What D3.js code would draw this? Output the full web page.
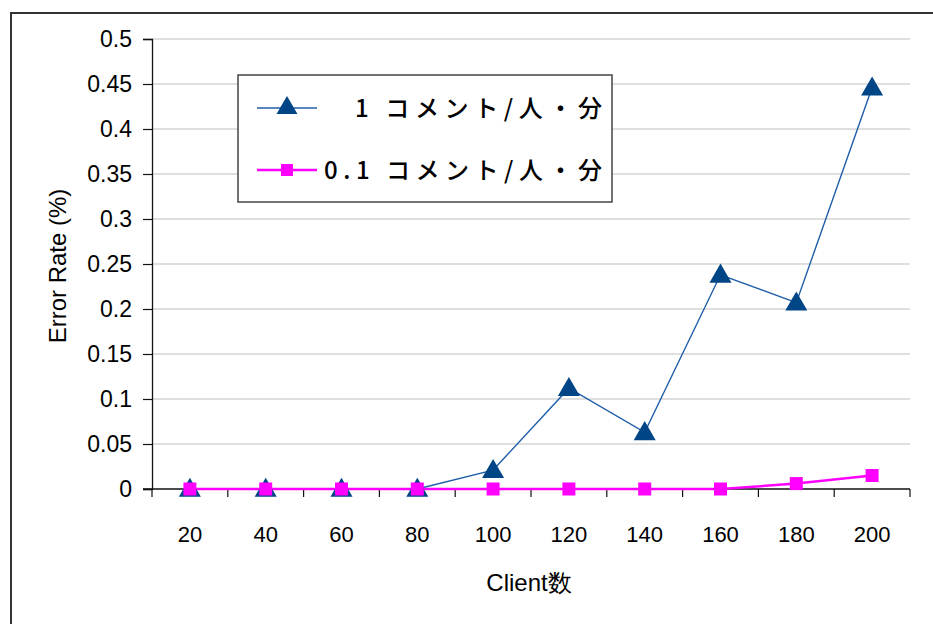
<!DOCTYPE html>
<html>
<head>
<meta charset="utf-8">
<script src="https://cdn.jsdelivr.net/npm/d3@7"></script>
<style>
  html, body { margin: 0; padding: 0; background: #fff; }
  svg { display: block; }
</style>
</head>
<body>
<svg id="chart" width="933" height="624"></svg>
<script>
// Client counts on the category axis
const clients = ["20", "40", "60", "80", "100", "120", "140", "160", "180", "200"];
// Error rate (%) at 1 comment / person / minute
const rateHigh = [0, 0, 0, 0, 0.021, 0.112, 0.063, 0.238, 0.207, 0.446];
// Error rate (%) at 0.1 comment / person / minute
const rateLow = [0, 0, 0, 0, 0, 0, 0, 0, 0.006, 0.015];
// Y-axis ticks
const yTicks = [0, 0.05, 0.1, 0.15, 0.2, 0.25, 0.3, 0.35, 0.4, 0.45, 0.5];
const seriesNames = ["1 コメント/人・分", "0.1 コメント/人・分"];

const svg = d3.select("#chart");
const latin = "'Liberation Sans', Arial, sans-serif";
const cjk = "'Noto Sans CJK JP', 'Noto Sans CJK SC', sans-serif";

const plot = { left: 152, right: 910, top: 39, bottom: 489 };

const x = d3.scaleBand().domain(clients).range([plot.left, plot.right]);
const y = d3.scaleLinear().domain([0, 0.5]).range([plot.bottom, plot.top]);

// Outer frame (runs past the window on the right and bottom)
svg.append("rect")
  .attr("x", 11).attr("y", 13).attr("width", 1000).attr("height", 1000)
  .attr("fill", "none").attr("stroke", "#333").attr("stroke-width", 2);

// Horizontal gridlines
svg.append("g")
  .selectAll("line")
  .data(yTicks.filter(d => d > 0))
  .join("line")
  .attr("x1", plot.left).attr("x2", plot.right)
  .attr("y1", d => y(d)).attr("y2", d => y(d))
  .attr("stroke", "#c0c0c0").attr("stroke-width", 1.2);

// Y axis
const yAxis = svg.append("g")
  .attr("transform", `translate(${plot.left},0)`)
  .call(d3.axisLeft(y).tickValues(yTicks).tickSize(9).tickPadding(11)
    .tickFormat(d => String(+d.toFixed(2))));
yAxis.select(".domain").attr("stroke", "#111").attr("stroke-width", 1.3);
yAxis.selectAll(".tick line").attr("stroke", "#111").attr("stroke-width", 1.2);
yAxis.selectAll(".tick text")
  .attr("font-family", latin).attr("font-size", 23).attr("fill", "#000");

// X axis: tick marks sit on the band boundaries
const xAxis = svg.append("g")
  .attr("transform", `translate(0,${plot.bottom})`);
xAxis.append("line")
  .attr("x1", plot.left - 9).attr("x2", plot.right)
  .attr("stroke", "#111").attr("stroke-width", 1.3);
const bounds = clients.map(c => x(c)).concat([x(clients[clients.length - 1]) + x.bandwidth()]);
xAxis.selectAll("line.tk")
  .data(bounds)
  .join("line").attr("class", "tk")
  .attr("x1", d => d).attr("x2", d => d)
  .attr("y1", 0).attr("y2", 8)
  .attr("stroke", "#111").attr("stroke-width", 1.2);
xAxis.selectAll("text")
  .data(clients)
  .join("text")
  .attr("x", d => x(d) + x.bandwidth() / 2)
  .attr("y", 53)
  .attr("text-anchor", "middle")
  .attr("font-family", latin).attr("font-size", 22)
  .text(d => d);

// Axis titles
svg.append("text")
  .attr("x", 529).attr("y", 591)
  .attr("text-anchor", "middle")
  .attr("font-family", latin).attr("font-size", 24)
  .text("Client数");

svg.append("text")
  .attr("transform", "translate(66,266) rotate(-90)")
  .attr("text-anchor", "middle")
  .attr("font-family", latin).attr("font-size", 24)
  .text("Error Rate (%)");

const cx = d => x(d) + x.bandwidth() / 2;
const tri = d3.symbol().type(d3.symbolTriangle).size(210);

// Series: 1 comment / person / minute
svg.append("path")
  .datum(rateHigh)
  .attr("fill", "none").attr("stroke", "#1f5ea8").attr("stroke-width", 1.4)
  .attr("d", d3.line().x((d, i) => cx(clients[i])).y(d => y(d)));

// Series: 0.1 comment / person / minute
svg.append("path")
  .datum(rateLow)
  .attr("fill", "none").attr("stroke", "#ff00ff").attr("stroke-width", 2.5)
  .attr("d", d3.line().x((d, i) => cx(clients[i])).y(d => y(d)));

svg.append("g")
  .selectAll("path")
  .data(rateHigh)
  .join("path")
  .attr("transform", (d, i) => `translate(${cx(clients[i])},${y(d) + 1.5})`)
  .attr("d", tri)
  .attr("fill", "#004586");

svg.append("g")
  .selectAll("rect")
  .data(rateLow)
  .join("rect")
  .attr("x", (d, i) => cx(clients[i]) - 6.5)
  .attr("y", d => y(d) - 6.5)
  .attr("width", 13).attr("height", 13)
  .attr("fill", "#ff00ff");

// Legend
const lg = svg.append("g");
lg.append("rect")
  .attr("x", 238).attr("y", 75).attr("width", 374).attr("height", 127)
  .attr("fill", "#fff").attr("stroke", "#444").attr("stroke-width", 1.5);

const legendRows = [
  { name: seriesNames[0], y: 108, color: "#1f5ea8", width: 1.4, marker: "tri", textX: 355, len: 247 },
  { name: seriesNames[1], y: 170, color: "#ff00ff", width: 2.5, marker: "sq", textX: 324, len: 278 }
];
legendRows.forEach(r => {
  lg.append("line")
    .attr("x1", 257).attr("x2", 317).attr("y1", r.y).attr("y2", r.y)
    .attr("stroke", r.color).attr("stroke-width", r.width);
  if (r.marker === "tri") {
    lg.append("path")
      .attr("transform", `translate(287,${r.y})`)
      .attr("d", d3.symbol().type(d3.symbolTriangle).size(190))
      .attr("fill", "#004586");
  } else {
    lg.append("rect")
      .attr("x", 281).attr("y", r.y - 6).attr("width", 12).attr("height", 12)
      .attr("fill", "#ff00ff");
  }
  lg.append("text")
    .attr("x", r.textX).attr("y", r.y + 9)
    .attr("font-family", cjk).attr("font-size", 24).attr("font-weight", 500)
    .attr("textLength", r.len).attr("lengthAdjust", "spacing")
    .text(r.name);
});
</script>
</body>
</html>
